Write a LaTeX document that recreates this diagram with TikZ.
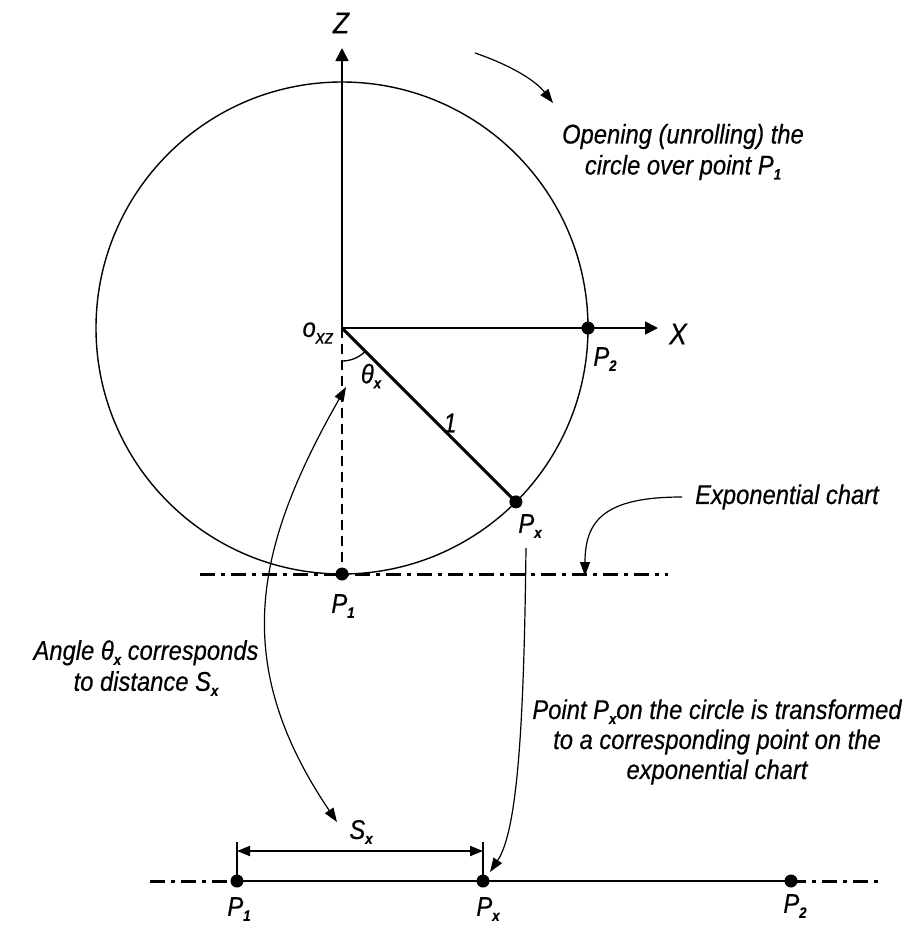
\documentclass[tikz,border=0pt]{standalone}
\usepackage{fontspec}
\setmainfont{Liberation Sans}[FakeStretch=0.88,FakeBold=0.4]
\usetikzlibrary{arrows.meta,calc}
\newcommand\sbx[1]{\raisebox{-5pt}{\fontsize{15}{15}\selectfont\bfseries #1}}
\begin{document}
\begin{tikzpicture}[x=1pt,y=-1pt,
  lbl/.style={font=\itshape\fontsize{27}{31}\selectfont, inner sep=0pt},
  txt/.style={lbl, align=center},
  thinline/.style={line width=1.4pt},
  axis/.style={line width=1.8pt, -{Triangle[length=13pt,width=13pt]}},
  radline/.style={line width=3pt},
  curvearrow/.style={line width=1.2pt, -{Triangle[length=14pt,width=10pt]}},
  dashdot/.style={line width=3pt, dash pattern=on 15pt off 6pt on 4pt off 6pt},
  dot/.style={circle, fill=black, minimum size=13pt, inner sep=0pt},
  dimline/.style={line width=1.8pt, {Triangle[length=13pt,width=10pt]}-{Triangle[length=13pt,width=10pt]}}
]
\path[use as bounding box] (0,0) rectangle (910,927);

% geometry
\coordinate (O) at (342,328);
\coordinate (Ztip) at (342,48);
\coordinate (Xtip) at (658,328);
\coordinate (UL) at (200,574);
\coordinate (UR) at (668,574);
\coordinate (BL) at (150,881);
\coordinate (BR) at (880,881);

% circle
\draw[thinline] (O) circle[radius=246];

% axes
\draw[axis] (O) -- (Ztip);
\draw[axis] (O) -- (Xtip);

% upper dash-dot line
\draw[dashdot] (UL) -- (UR);

% dashed vertical
\draw[line width=1.5pt, dash pattern=on 10pt off 6pt] (O) -- (342,574);

% points on circle
\node[dot] (P2c) at (588,328) {};
\node[dot] (Pxc) at (515.9,501.9) {};
\node[dot] (P1c) at (342,574) {};

% radius line
\draw[radline] (O) -- (Pxc.center);

% angle arc
\draw[line width=1.3pt] ($(O)+(0,33)$) arc[start angle=90, end angle=45, radius=33];

% labels
\node[lbl, font=\fontsize{30}{30}\selectfont\itshape] (Zl) at (341,23) {Z};
\node[lbl, font=\fontsize{30}{30}\selectfont\itshape] (Xl) at (678,334) {X};
\node[lbl] (P2l) at (605,359) {P\sbx{2}};
\node[lbl] (Oxz) at (318,333) {o\raisebox{-0.25em}{\fontsize{20}{20}\selectfont xz}};
\node[lbl] (Thl) at (371,376) {θ\sbx{x}};
\node[lbl] (One) at (450,423) {1};
\node[lbl] (Pxl) at (530,526) {P\sbx{x}};
\node[lbl] (P1l) at (343,606) {P\sbx{1}};

% bottom line
\node[dot] (B1) at (237,881) {};
\node[dot] (Bx) at (483,881) {};
\node[dot] (B2) at (791,881) {};
\draw[dashdot] (BL) -- (B1.center);
\draw[line width=1.8pt] (B1.center) -- (B2.center);
\draw[dashdot] (B2.center) -- (BR);
\node[lbl] (B1l) at (239,909) {P\sbx{1}};
\node[lbl] (Bxl) at (488,909) {P\sbx{x}};
\node[lbl] (B2l) at (795,906) {P\sbx{2}};

% dimension
\coordinate (T1) at (237,842);
\coordinate (Tx) at (483,842);
\draw[line width=1.3pt] (T1) -- (B1.center);
\draw[line width=1.3pt] (Tx) -- (Bx.center);
\draw[dimline] (237,851) -- (483,851);
\node[lbl] (Sxl) at (361,832) {S\sbx{x}};

% texts
\node[txt] (Open) at (683,152) {Opening (unrolling) the\\circle over point P\sbx{1}};
\node[txt] (Expo) at (787,497) {Exponential chart};
\node[txt] (Angl) at (146,668) {Angle θ\sbx{x} corresponds\\to distance S\sbx{x}};
\node[txt, font=\itshape\fontsize{27}{30}\selectfont] (Pnt) at (717,742) {Point P\sbx{x}on the circle is transformed\\to a corresponding point on the\\exponential chart};

% curved arrows
\coordinate (OpS) at (475,53);
\coordinate (OpE) at (553,103);
\draw[curvearrow] (OpS) .. controls (510,65) and (535,80) .. (OpE);

\coordinate (ThA) at (346,387);
\coordinate (ThB) at (337,822);
\draw[line width=1.2pt, {Triangle[length=14pt,width=10pt]}-{Triangle[length=14pt,width=10pt]}] (ThA) .. controls (255,547) and (229,662) .. (ThB);

\coordinate (PxS) at (526,548);
\coordinate (PxE) at (490,872);
\draw[curvearrow] (PxS) .. controls (524,720) and (518,830) .. (PxE);

\coordinate (ExS) at (682,497);
\coordinate (ExE) at (585,576);
\draw[curvearrow] (ExS) .. controls (605,497) and (585,520) .. (ExE);
\end{tikzpicture}
\end{document}
